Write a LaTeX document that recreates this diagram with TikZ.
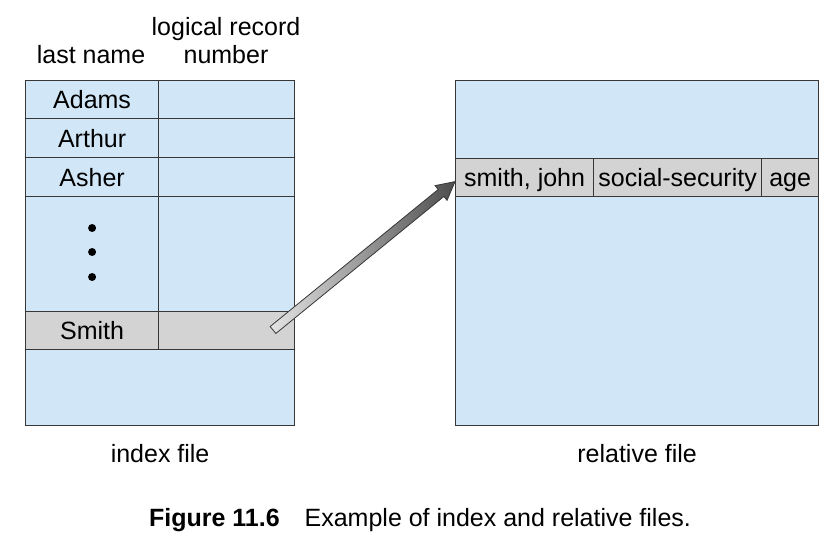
\documentclass[tikz,border=0pt]{standalone}
\usepackage{fontspec}
\setmainfont{Liberation Sans}
\usetikzlibrary{calc}
\definecolor{fileblue}{RGB}{209,231,247}
\definecolor{recgray}{RGB}{211,211,211}
\definecolor{edge}{RGB}{55,55,55}

\begin{document}
\begin{tikzpicture}[x=1pt, y=-1pt,
  font=\fontsize{25}{30}\selectfont,
  cell/.style={draw=edge, line width=1.2pt, fill=fileblue, inner sep=0pt,
    anchor=north west, text height=18pt, text depth=0pt},
  rec/.style={cell, fill=recgray},
  txt/.style={inner sep=0pt, text height=18pt, text depth=0pt}]
\useasboundingbox (0,0) rectangle (836,552);

% index file
\node[txt] (lastname) at (91,54) {last name};
\node[txt] (logrec) at (226,26) {logical record};
\node[txt] (number) at (226,54) {number};
\foreach \nm/\top/\hgt in {Adams/80/38, Arthur/118/39, Asher/157/39} {
\node[cell, minimum width=133pt, minimum height=\hgt pt] (\nm) at (25,\top) {\nm};
\node[cell, minimum width=136pt, minimum height=\hgt pt] (\nm-num) at (158,\top) {};
}
\node[cell, minimum width=133pt, minimum height=115pt] (dots) at (25,196) {};
\node[cell, minimum width=136pt, minimum height=115pt] (dots-num) at (158,196) {};
\foreach \y in {228,252,277} {
\fill (dots.north |- 0,\y) circle (4pt);
}
\node[rec, minimum width=133pt, minimum height=38pt] (Smith) at (25,311) {Smith};
\node[rec, minimum width=136pt, minimum height=38pt] (Smith-num) at (158,311) {};
\node[cell, minimum width=269pt, minimum height=76pt] (idxrest) at (25,349) {};
\node[txt] (idxlabel) at (idxrest.south |- 0,453) {index file};

% relative file
\node[cell, minimum width=363pt, minimum height=78pt] (reltop) at (455,80) {};
\node[rec, minimum width=138pt, minimum height=38pt] (sj) at (455,158) {smith, john};
\node[rec, minimum width=168pt, minimum height=38pt] (ssn) at (593,158) {social-security};
\node[rec, minimum width=57pt, minimum height=38pt] (age) at (761,158) {age};
\node[cell, minimum width=363pt, minimum height=229pt] (relrest) at (455,196) {};
\node[txt] (rellabel) at (relrest.south |- 0,453) {relative file};

% pointer
\coordinate (tail) at (273,330);
\coordinate (tip) at ($(sj.west)+(0,4)$);
\coordinate (hb) at ($(tip)!18pt!(tail)$);
\shade[draw=edge, line width=0.8pt, left color=recgray!60!white, right color=black!70]
  ($(tail)!4.5pt!90:(tip)$) -- ($(hb)!4.5pt!90:(tip)$) -- ($(hb)!9.5pt!90:(tip)$)
  -- (tip) -- ($(hb)!9.5pt!-90:(tip)$) -- ($(hb)!4.5pt!-90:(tip)$)
  -- ($(tail)!4.5pt!-90:(tip)$) -- cycle;

\node[txt] (caption) at (420,517) {\textbf{Figure 11.6}\quad Example of index and relative files.};
\end{tikzpicture}
\end{document}
